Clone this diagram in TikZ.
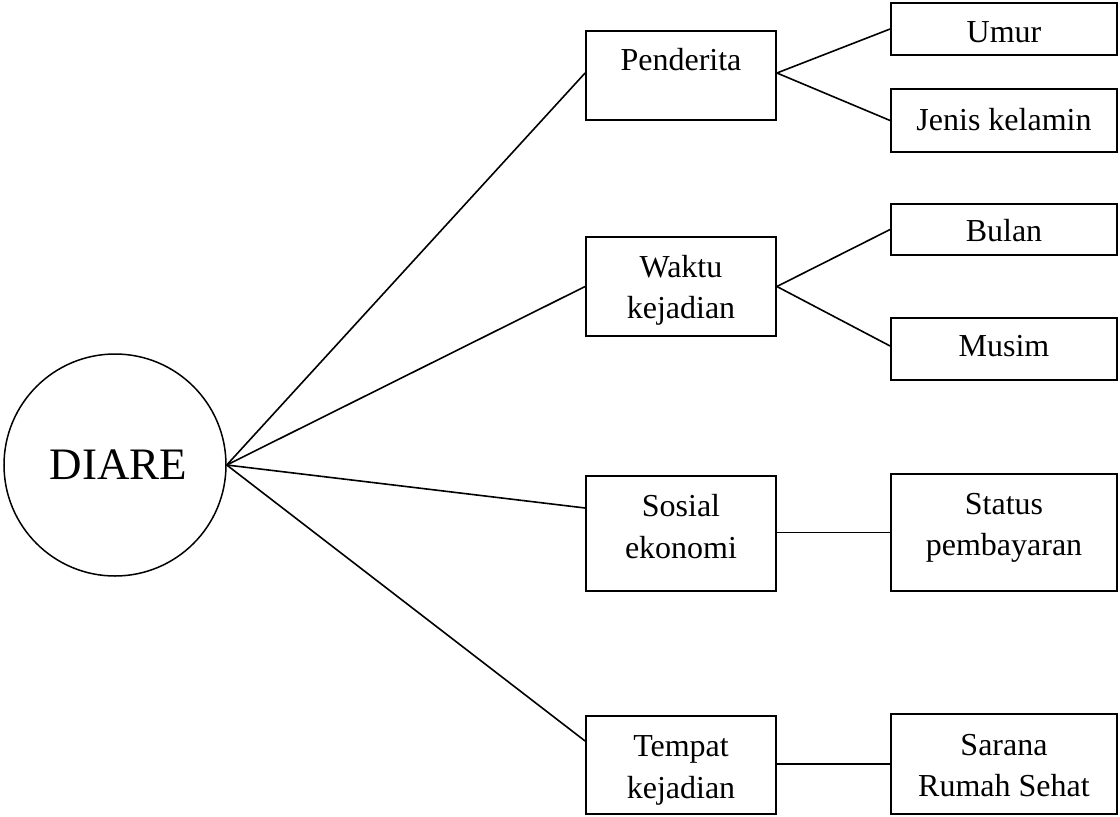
\documentclass[tikz,border=0pt]{standalone}
\usepackage{fontspec}
\setmainfont{Liberation Serif}
\begin{document}
\begin{tikzpicture}[x=1pt,y=-1pt,
  box/.style={draw, line width=1.8pt, inner sep=0pt},
  conn/.style={line width=1.6pt},
  txt/.style={anchor=base, inner sep=0pt, align=center, font=\fontsize{32}{41.5}\selectfont},
  hub/.style={draw, circle, line width=1.5pt, inner sep=0pt, minimum size=222pt, font=\fontsize{45}{54}\selectfont}]
\useasboundingbox (0,0) rectangle (1120,817);
% centre
\node[hub] (diare) at (115,465) {\hspace*{7pt}DIARE};
% middle column
\node[box, minimum width=190pt, minimum height=89pt]  (pen) at (681,75.5) {};
\node[box, minimum width=190pt, minimum height=99pt]  (wak) at (681,286.5) {};
\node[box, minimum width=190pt, minimum height=115pt] (sos) at (681,533.5) {};
\node[box, minimum width=190pt, minimum height=98pt]  (tem) at (681,765) {};
% right column
\node[box, minimum width=226pt, minimum height=52pt]  (umur)   at (1004,29) {};
\node[box, minimum width=226pt, minimum height=63pt]  (jenis)  at (1004,120.5) {};
\node[box, minimum width=226pt, minimum height=51pt]  (bulan)  at (1004,229.5) {};
\node[box, minimum width=226pt, minimum height=62pt]  (musim)  at (1004,349) {};
\node[box, minimum width=226pt, minimum height=117pt] (status) at (1004,532.5) {};
\node[box, minimum width=226pt, minimum height=100pt] (sarana) at (1004,764) {};
% texts
\node[txt] (penT) at (681,70.5) {Penderita};
\node[txt] (wakT) at (681,277) {\begin{tabular}[t]{@{}c@{}}Waktu\\kejadian\end{tabular}};
\node[txt] (sosT) at (681,516.5) {\begin{tabular}[t]{@{}c@{}}Sosial\\ekonomi\end{tabular}};
\node[txt] (temT) at (681,756.5) {\begin{tabular}[t]{@{}c@{}}Tempat\\kejadian\end{tabular}};
\node[txt] (umurT) at (1004,42.5) {Umur};
\node[txt] (jenisT) at (1004,130) {Jenis kelamin};
\node[txt] (bulanT) at (1004,241.5) {Bulan};
\node[txt] (musimT) at (1004,356.5) {Musim};
\node[txt] (statusT) at (1004,514) {\begin{tabular}[t]{@{}c@{}}Status\\pembayaran\end{tabular}};
\node[txt] (saranaT) at (1004,755) {\begin{tabular}[t]{@{}c@{}}Sarana\\Rumah Sehat\end{tabular}};
% connectors
\draw[conn] (diare.east) -- ([yshift=2.5pt]pen.west);
\draw[conn] (diare.east) -- (wak.west);
\draw[conn] (diare.east) -- ([yshift=25.5pt]sos.west);
\draw[conn] (diare.east) -- ([yshift=24pt]tem.west);
\draw[conn] ([yshift=2.5pt]pen.east) -- (umur.west);
\draw[conn] ([yshift=2.5pt]pen.east) -- (jenis.west);
\draw[conn] (wak.east) -- (bulan.west);
\draw[conn] (wak.east) -- ([yshift=3pt]musim.west);
\draw[conn] ([yshift=1pt]sos.east) -- (status.west);
\draw[conn] ([yshift=1pt]tem.east) -- (sarana.west);
\end{tikzpicture}
\end{document}
